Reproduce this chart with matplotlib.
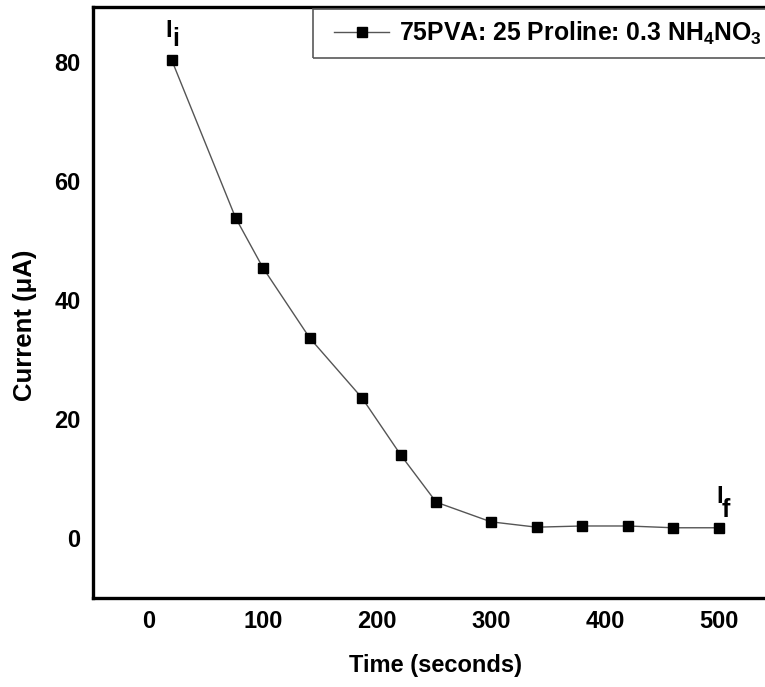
import matplotlib
matplotlib.use("Agg")
import matplotlib.pyplot as plt
from matplotlib.legend_handler import HandlerLine2D
from matplotlib.patches import Rectangle
from matplotlib.transforms import IdentityTransform

time_s = [20, 76, 100, 141, 187, 221, 252, 300, 340, 380, 420, 460, 500]
current_uA = [80.3, 53.8, 45.4, 33.6, 23.5, 13.9, 6.0, 2.7, 1.8, 2.0, 2.0, 1.7, 1.7]
x_ticks = [0, 100, 200, 300, 400, 500]
y_ticks = [0, 20, 40, 60, 80]
series_label = "75PVA: 25 Proline: 0.3 NH$_4$NO$_3$"

plt.rcParams['font.family'] = ['Liberation Sans', 'DejaVu Sans']
plt.rcParams['mathtext.fontset'] = 'custom'
plt.rcParams['mathtext.rm'] = 'Liberation Sans:bold'
plt.rcParams['mathtext.it'] = 'Liberation Sans:bold'
plt.rcParams['mathtext.bf'] = 'Liberation Sans:bold'

fig = plt.figure(figsize=(7.65, 6.87), dpi=100)
x_left, x_right = 93, 778
ax = fig.add_axes([x_left/765, 89/687, (x_right-x_left)/765, (598-7)/687])

line, = ax.plot(time_s, current_uA, color='#555555', lw=1.0, marker='s', ms=7,
                mfc='black', mec='black', label=series_label)

ax.set_xlim(-49, (x_right-149)/1.14)
ax.set_ylim(-10.1, 89.2)
ax.set_xticks(x_ticks)
ax.set_yticks(y_ticks)
ax.tick_params(length=0, labelsize=17, pad=9)
for lab in ax.get_xticklabels() + ax.get_yticklabels():
    lab.set_fontweight('bold')
for s in ax.spines.values():
    s.set_linewidth(2.4)

ax.set_xlabel("Time (seconds)", fontsize=17, fontweight='bold', labelpad=15)
ax.set_ylabel("Current (μA)", fontsize=18.5, fontweight='bold')
ax.yaxis.set_label_coords((37 - x_left) / (x_right - x_left), (598 - 325) / 591)

# I_i and I_f annotations placed relative to the first / last points
for (xv, yv), (dxI, dyI), sub, (dxs, dys) in [
        ((time_s[0], current_uA[0]), (-6, 23), "i", (1, 14)),
        ((time_s[-1], current_uA[-1]), (-3, 25), "f", (3, 11))]:
    ax.annotate("I", xy=(xv, yv), xytext=(dxI, dyI), textcoords='offset pixels',
                fontsize=17, fontweight='bold', ha='left', va='baseline')
    ax.annotate(sub, xy=(xv, yv), xytext=(dxs, dys), textcoords='offset pixels',
                fontsize=18, fontweight='bold', ha='left', va='baseline')

fs = 17.8
leg = ax.legend(loc='upper left', bbox_to_anchor=(313/765, 1 - 9/687),
                bbox_transform=fig.transFigure, borderaxespad=0, fancybox=False,
                frameon=False, fontsize=fs, handlelength=2.63,
                handletextpad=0.40, borderpad=0.45,
                handler_map={line: HandlerLine2D(xpad=0.40)})
for t in leg.get_texts():
    t.set_fontweight('bold')

# legend frame that runs off the right edge, as in the reference
fig.canvas.draw()
bb = leg.get_window_extent()
frame = Rectangle((bb.x0, bb.y0), 1000, bb.height, transform=IdentityTransform(),
                  facecolor='none', edgecolor='0.35', lw=1.2, zorder=1)
fig.add_artist(frame)

fig.savefig("out.png", dpi=100)
